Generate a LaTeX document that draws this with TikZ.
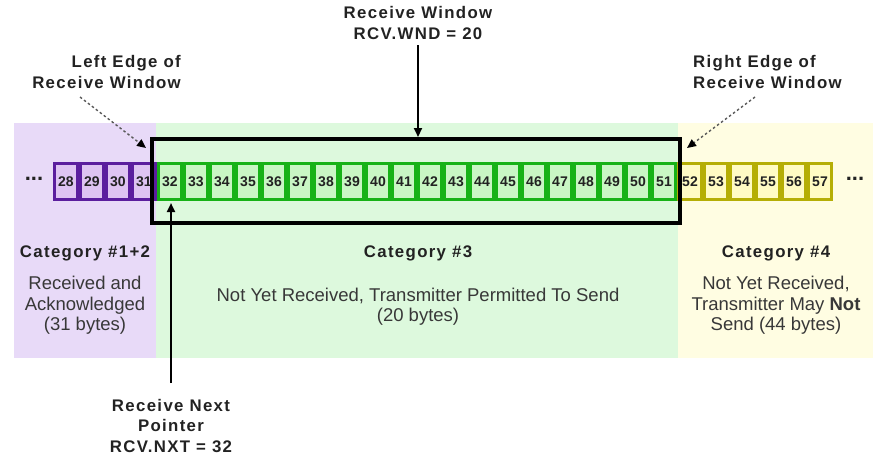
\documentclass[tikz,border=0pt]{standalone}
\usepackage{fontspec}
\setmainfont{Liberation Sans}
\newfontfamily\lblfont[LetterSpace=8]{Liberation Sans}
\usetikzlibrary{arrows.meta}
\definecolor{bgP}{HTML}{E8DAF8}
\definecolor{bgG}{HTML}{DDF9DD}
\definecolor{bgY}{HTML}{FFFDE2}
\definecolor{brP}{HTML}{5B1E9E}
\definecolor{fiP}{HTML}{DEC4F2}
\definecolor{brG}{HTML}{17B217}
\definecolor{fiG}{HTML}{C9F6C4}
\definecolor{brY}{HTML}{B5AE05}
\definecolor{fiY}{HTML}{FFFBC4}
\definecolor{txt}{HTML}{222222}
\tikzset{
  region/.style={draw=none, inner sep=0pt},
  cell/.style={inner sep=0pt, minimum width=20pt, minimum height=33pt, text=txt,
    font=\fontsize{14}{14}\selectfont\bfseries},
  title/.style={inner sep=0pt, text=txt, font=\lblfont\fontsize{16.8}{20.5}\selectfont\bfseries},
  body/.style={inner sep=0pt, text=txt!90, font=\fontsize{18.5}{20.5}\selectfont, align=center},
  arr/.style={line width=2.2pt, -{Triangle[length=9pt,width=8pt]}},
  darr/.style={line width=1.4pt, gray!70!black, dash pattern=on 2.5pt off 2.5pt,
    -{Triangle[length=9pt,width=8pt,color=black]}},
  winbox/.style={draw=black, line width=4pt, inner sep=0pt, minimum width=528pt, minimum height=84pt},
  dots/.style={inner sep=0pt, text=txt, font=\fontsize{22}{22}\selectfont\bfseries}
}
\begin{document}
\begin{tikzpicture}[x=1pt,y=-1pt]
\useasboundingbox (0,0) rectangle (887,459);
% background regions
\node[region, fill=bgP, minimum width=142pt, minimum height=235pt] (regP) at (85,240.5) {};
\node[region, fill=bgG, minimum width=522pt, minimum height=235pt] (regG) at (417,240.5) {};
\node[region, fill=bgY, minimum width=195pt, minimum height=235pt] (regY) at (775.5,240.5) {};
% cell groups
\fill[brP] (53,162) rectangle (157,201);
\fill[brG] (157,162) rectangle (677,201);
\fill[brY] (677,162) rectangle (833,201);
\foreach \n in {28,...,31}{
  \node[cell, fill=fiP] (c\n) at ({66+26*(\n-28)},181.5) {\n};
}
\foreach \n in {32,...,51}{
  \node[cell, fill=fiG] (c\n) at ({66+26*(\n-28)},181.5) {\n};
}
\foreach \n in {52,...,57}{
  \node[cell, fill=fiY] (c\n) at ({66+26*(\n-28)},181.5) {\n};
}
\node[dots] (dotsL) at (34,179) {...};
\node[dots] (dotsR) at (855,179) {...};
% window
\node[winbox] (win) at (416,181) {};
% labels
\node[title, align=center] (rwl) at (418,23) {Receive Window\\RCV.WND = 20};
\coordinate (rws) at (418,45);
\draw[arr] (rws) -- (win.north -| rws);
\node[title, align=right, anchor=east] (lel) at (181,72) {Left Edge of\\Receive Window};
\node[title, align=left, anchor=west] (rel) at (693,72) {Right Edge of\\Receive Window};
\coordinate (les) at (80,97);
\coordinate (let) at (146,148);
\draw[darr] (les) -- (let);
\coordinate (res) at (755,97);
\coordinate (ret) at (687,148);
\draw[darr] (res) -- (ret);
% categories
\node[title] (cat12) at (85,253) {Category \#1+2};
\node[body] (b12) at (85,305.5) {Received and\\Acknowledged\\(31 bytes)};
\node[title] (cat3) at (418,253) {Category \#3};
\node[body] (b3) at (418,306.5) {Not Yet Received, Transmitter Permitted To Send\\(20 bytes)};
\node[title] (cat4) at (776,253) {Category \#4};
\node[body] (b4) at (776,305.5) {Not Yet Received,\\Transmitter May \textbf{Not}\\Send (44 bytes)};
% receive next pointer
\node[title, align=center] (rnp) at (171,425.5) {Receive Next\\Pointer\\RCV.NXT = 32};
\coordinate (rnps) at (171,383);
\coordinate (rnpt) at (171,203);
\draw[arr] (rnps) -- (rnpt);
\end{tikzpicture}
\end{document}
